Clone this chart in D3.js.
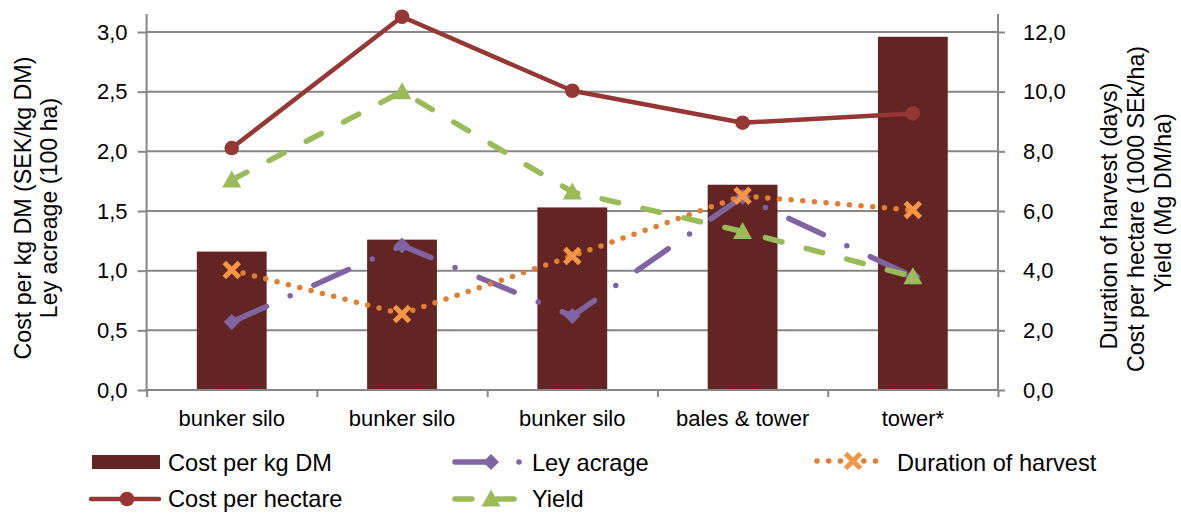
<!DOCTYPE html>
<html><head><meta charset="utf-8">
<script src="https://cdn.jsdelivr.net/npm/d3@7"></script>
<style>body{margin:0;background:#fff;}svg{display:block;font-family:"Liberation Sans",Arial,sans-serif;}</style>
</head><body><svg id="c" width="1181" height="515"></svg>
<script>
const categories = ["bunker silo","bunker silo","bunker silo","bales & tower","tower*"];
const costPerKgDM = [1.16, 1.26, 1.53, 1.72, 2.96];
const leyAcreage = [0.57, 1.21, 0.62, 1.62, 0.95];
const durationHarvest = [4.02, 2.55, 4.49, 6.51, 6.03];
const costPerHectare = [8.11, 12.51, 10.03, 8.96, 9.27];
const yieldMg = [7.04, 10.0, 6.64, 5.31, 3.80];
const leftTicks = [0, 0.5, 1.0, 1.5, 2.0, 2.5, 3.0];
const rightTicks = [0, 2, 4, 6, 8, 10, 12];

const svg = d3.select("#c");
const L = 146.6, R = 998, T = 32, B = 390, TOP = 14;
const idx = categories.map((d,i)=>i);
const x = d3.scaleBand().domain(idx).range([L,R]).padding(0);
const bw = x.bandwidth();
const cx = i => x(i) + bw/2;
const yL = d3.scaleLinear().domain([0,3]).range([B,T]);
const yR = d3.scaleLinear().domain([0,12]).range([B,T]);
const fmt = d => d3.format(".1f")(d).replace(".", ",");
const gray = "#878787";

// gridlines
svg.append("g").selectAll("line").data(leftTicks.filter(d=>d>0)).join("line")
  .attr("x1",L).attr("x2",R).attr("y1",d=>yL(d)).attr("y2",d=>yL(d))
  .attr("stroke",gray).attr("stroke-width",2);

// bars
svg.append("g").selectAll("rect").data(costPerKgDM).join("rect")
  .attr("x",(d,i)=>x(i)+bw*0.295).attr("width",bw*0.41)
  .attr("y",d=>yL(d)).attr("height",d=>B-yL(d)).attr("fill","#632523");

// axes
const gl = svg.append("g").attr("transform",`translate(${L},0)`)
  .call(d3.axisLeft(yL).tickValues(leftTicks).tickFormat(fmt).tickSize(9).tickPadding(10));
const gr = svg.append("g").attr("transform",`translate(${R},0)`)
  .call(d3.axisRight(yR).tickValues(rightTicks).tickFormat(fmt).tickSize(7).tickPadding(18));
const xb = d3.scaleLinear().domain([0,5]).range([L,R]);
const gx = svg.append("g").attr("transform",`translate(0,${B})`)
  .call(d3.axisBottom(xb).tickValues([0,1,2,3,4,5]).tickFormat("").tickSize(7));
[gl,gr,gx].forEach(g=>{
  g.select(".domain").remove();
  g.selectAll("line").attr("stroke",gray).attr("stroke-width",2);
  g.selectAll("text").attr("font-size",22).attr("fill","#000").attr("font-family","Liberation Sans, Arial");
});
svg.append("line").attr("x1",L).attr("x2",L).attr("y1",TOP).attr("y2",B+1).attr("stroke",gray).attr("stroke-width",2);
svg.append("line").attr("x1",R).attr("x2",R).attr("y1",TOP).attr("y2",B+1).attr("stroke",gray).attr("stroke-width",2);
svg.append("line").attr("x1",L-1).attr("x2",R+1).attr("y1",B).attr("y2",B).attr("stroke",gray).attr("stroke-width",2);

// category labels
svg.append("g").selectAll("text").data(categories).join("text")
  .attr("x",(d,i)=>cx(i)).attr("y",426).attr("text-anchor","middle")
  .attr("font-size",22).attr("fill","#000").text(d=>d);

// axis titles
const lt = svg.append("text").attr("transform","translate(31,208) rotate(-90)")
  .attr("text-anchor","middle").attr("font-size",23.2).attr("fill","#000");
lt.append("tspan").attr("x",0).attr("y",0).text("Cost per kg DM (SEK/kg DM)");
lt.append("tspan").attr("x",0).attr("y",26).text("Ley acreage (100 ha)");
const rt = svg.append("text").attr("transform","translate(1117,209) rotate(-90)")
  .attr("text-anchor","middle").attr("font-size",23.2).attr("fill","#000");
rt.append("tspan").attr("x",-7).attr("y",0).text("Duration of harvest (days)");
rt.append("tspan").attr("x",0).attr("y",26.8).text("Cost per hectare (1000 SEk/ha)");
rt.append("tspan").attr("x",6).attr("y",53.6).text("Yield (Mg DM/ha)");

// styles
const styles = {
  ley: {color:"#8064A2", w:5.5, dash:"38,26,0,26"},
  dur: {color:"#E07E33", w:5.5, dash:"0,11.7"},
  cost:{color:"#953735", w:4.5, dash:null},
  yld: {color:"#9BBB59", w:5.5, dash:"17,25"}
};
function drawLine(data, y, st){
  const line = d3.line().x((d,i)=>cx(i)).y(d=>y(d));
  svg.append("path").datum(data).attr("d",line).attr("fill","none")
    .attr("stroke",st.color).attr("stroke-width",st.w).attr("stroke-linecap","round")
    .attr("stroke-linejoin","round").attr("stroke-dasharray",st.dash);
}
function marker(g, kind, px, py){
  if(kind==="diamond"){
    const s=8;
    g.append("path").attr("d",`M${px},${py-s}L${px+s},${py}L${px},${py+s}L${px-s},${py}Z`)
      .attr("fill","#8064A2");
  } else if(kind==="x"){
    const s=7.5;
    g.append("path").attr("d",`M${px-s},${py-s}L${px+s},${py+s}M${px-s},${py+s}L${px+s},${py-s}`)
      .attr("stroke","#F79646").attr("stroke-width",5).attr("fill","none");
  } else if(kind==="circle"){
    g.append("circle").attr("cx",px).attr("cy",py).attr("r",7.3).attr("fill","#953735");
  } else if(kind==="tri"){
    g.append("path").attr("d",`M${px},${py-9.5}L${px+9.5},${py+7.5}L${px-9.5},${py+7.5}Z`).attr("fill","#9BBB59");
  }
}
function drawSeries(data,y,st,kind){
  drawLine(data,y,st);
  const g = svg.append("g");
  data.forEach((d,i)=>marker(g,kind,cx(i),y(d)));
}
drawSeries(leyAcreage, yL, styles.ley, "diamond");
drawSeries(durationHarvest, yR, styles.dur, "x");
drawSeries(costPerHectare, yR, styles.cost, "circle");
drawSeries(yieldMg, yR, styles.yld, "tri");

// legend
const lg = svg.append("g");
function legText(tx, ty, t){
  lg.append("text").attr("x",tx).attr("y",ty).attr("dominant-baseline","central")
    .attr("font-size",23.6).attr("fill","#000").text(t);
}
lg.append("rect").attr("x",92).attr("y",455).attr("width",68).attr("height",14).attr("fill","#632523");
legText(168,463,"Cost per kg DM");
function legLine(x0,y0,st,kind){
  lg.append("line").attr("x1",x0).attr("x2",x0+68).attr("y1",y0).attr("y2",y0)
    .attr("stroke",st.color).attr("stroke-width",st.w).attr("stroke-linecap","round").attr("stroke-dasharray",st.dash);
  marker(lg,kind,x0+36,y0);
}
legLine(455,462,styles.ley,"diamond"); legText(532,463,"Ley acrage");
legLine(817,461,styles.dur,"x"); legText(897,463,"Duration of harvest");
legLine(91,499,styles.cost,"circle"); legText(168,499,"Cost per hectare");
legLine(455,499,styles.yld,"tri"); legText(532,499,"Yield");
</script></body></html>
